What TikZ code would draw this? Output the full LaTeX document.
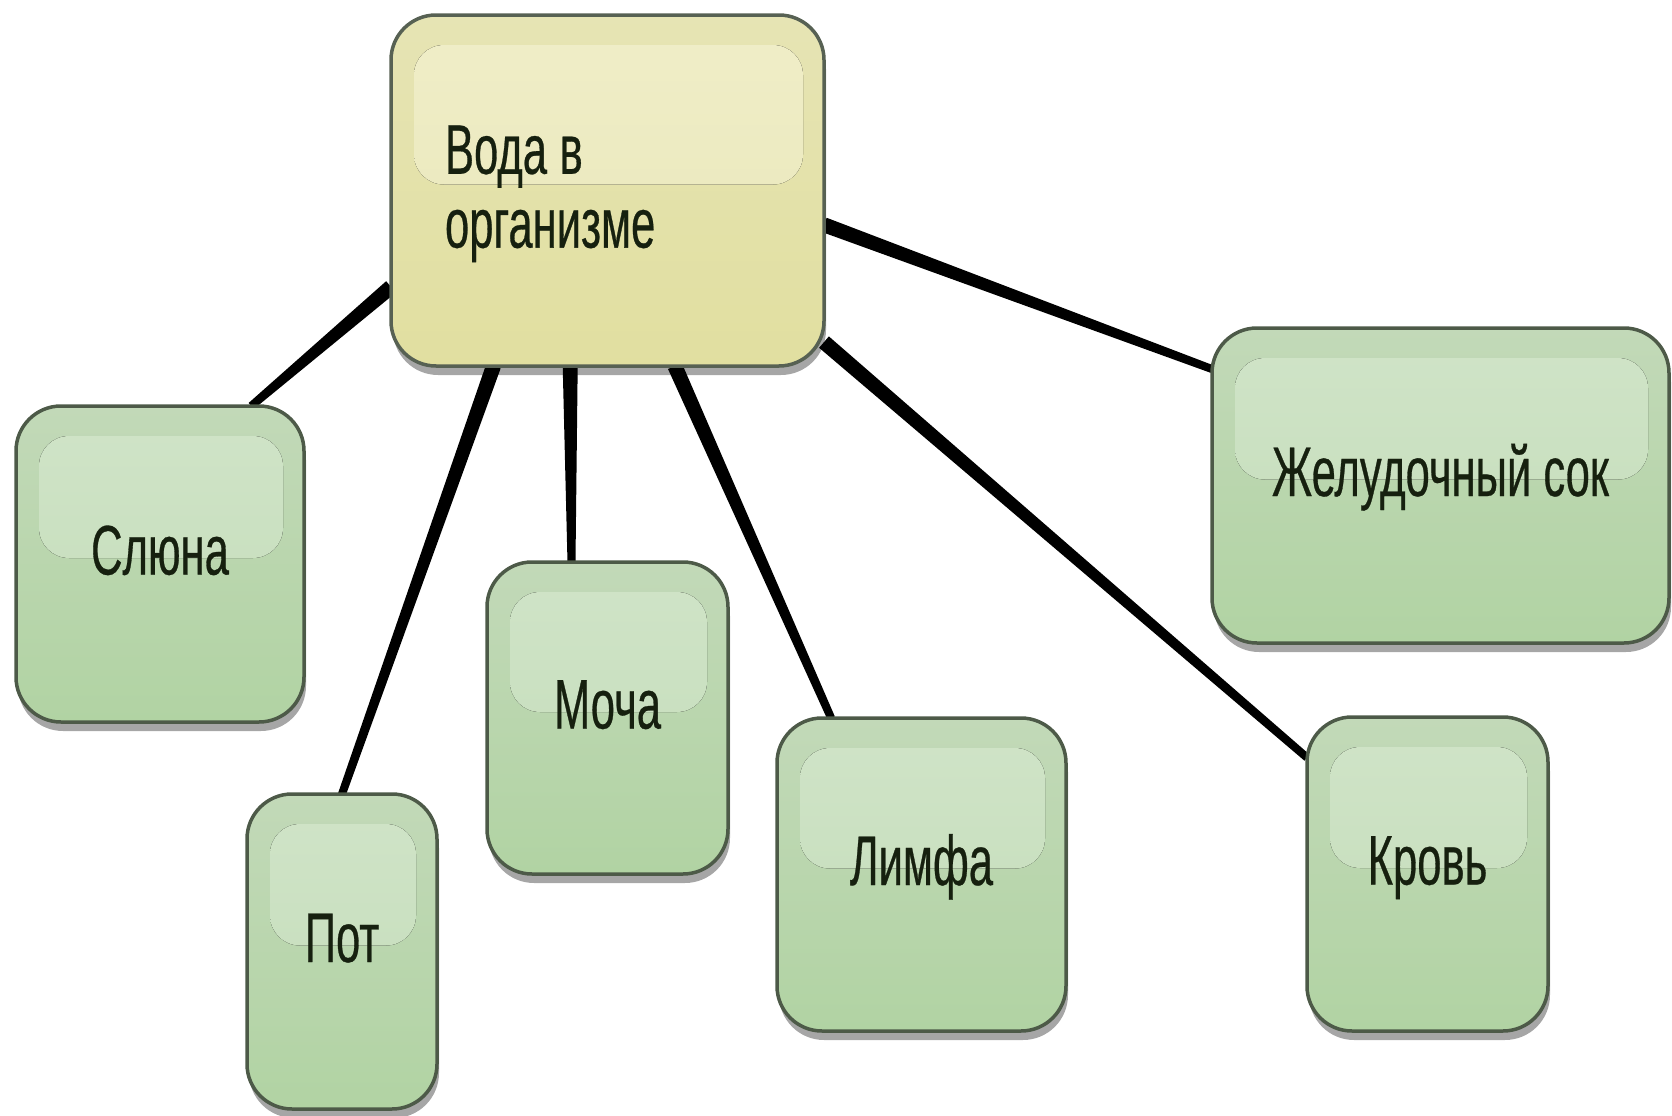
\documentclass[tikz,border=0pt]{standalone}
\usepackage{fontspec}
\setmainfont{Liberation Sans}[FakeStretch=0.62, FakeBold=0.4]
\usetikzlibrary{shadows, calc, backgrounds}

\definecolor{topgreen}{HTML}{C2D9B8}
\definecolor{boxgreen}{HTML}{B1D3A3}
\definecolor{glossgreen}{HTML}{D0E4C8}
\definecolor{glossgreenlow}{HTML}{C3DCB8}
\definecolor{topyellow}{HTML}{E6E4B4}
\definecolor{boxyellow}{HTML}{E1DFA0}
\definecolor{glossyellow}{HTML}{F0EEC8}
\definecolor{glossyellowlow}{HTML}{E8E6B8}
\definecolor{boxline}{HTML}{4D5A48}
\definecolor{textdark}{HTML}{16200F}

\begin{document}
\begin{tikzpicture}[x=0.1mm, y=-0.1mm,
    box/.style={draw=boxline, line width=0.35mm, rounded corners=4.5mm,
        text=textdark, font=\fontsize{20pt}{21pt}\selectfont,
        text height=0.8em, text depth=0.2em, inner sep=0pt, outer sep=0pt,
        drop shadow={shadow xshift=0.2mm, shadow yshift=-0.9mm, fill=black, opacity=0.35}},
    gloss/.style 2 args={path picture={
        \fill[top color=#1, bottom color=#2, rounded corners=3mm]
            ([xshift=2.3mm, yshift=-3mm]path picture bounding box.north west)
            rectangle ([xshift=-2.1mm, yshift=0.6mm]path picture bounding box.east);}},
    gbox/.style={box, top color=topgreen, bottom color=boxgreen, gloss={glossgreen}{glossgreenlow}},
    ybox/.style={box, top color=topyellow, bottom color=boxyellow, gloss={glossyellow}{glossyellowlow},
        draw=boxline!80!gray}]
\useasboundingbox (0,0) rectangle (1672,1116);

% central node
\node[ybox, minimum width=43.3mm, minimum height=35.1mm, text width=32.5mm, align=left,
    text depth=1.75em] (water) at (607.5,190.5) {Вода\hspace{0.18em}в\\организме};

% what the water is found in
\node[gbox, minimum width=28.8mm, minimum height=31.6mm] (saliva) at (160,564) {Слюна};
\node[gbox, minimum width=19.0mm, minimum height=31.5mm] (sweat) at (342,951.5) {Пот};
\node[gbox, minimum width=24.1mm, minimum height=31.2mm] (urine) at (607.5,718) {Моча};
\node[gbox, minimum width=28.9mm, minimum height=31.3mm] (lymph) at (921.5,874.5) {Лимфа};
\node[gbox, minimum width=45.7mm, minimum height=31.5mm] (juice) at (1440.5,485.5) {Желудочный сок};
\node[gbox, minimum width=24.1mm, minimum height=31.4mm] (blood) at (1427.5,874) {Кровь};

% tapered links, thick at the centre
\begin{pgfonlayer}{background}
\foreach \from/\to in {water.204/saliva.60, water.237/sweat.north, water.258/urine.103,
        water.291/lymph.120, water.325/blood.136, water.351/juice.153}
    \fill[black] ($(\from)!0.75mm!90:(\to)$) -- ($(\from)!0.75mm!-90:(\to)$)
        -- ($(\to)!0.4mm!90:(\from)$) -- ($(\to)!0.4mm!-90:(\from)$) -- cycle;
\end{pgfonlayer}
\end{tikzpicture}
\end{document}
